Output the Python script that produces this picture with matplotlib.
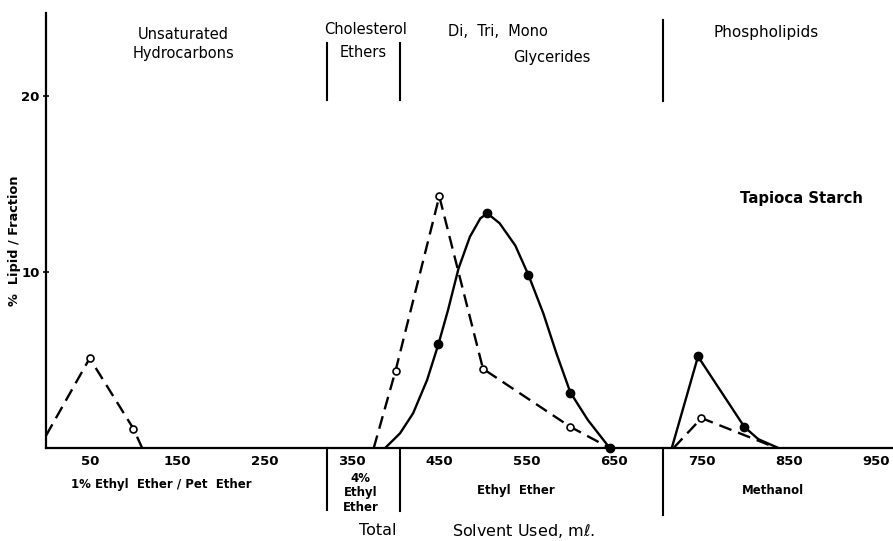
import matplotlib
matplotlib.use("Agg")
import matplotlib.pyplot as plt

# x ticks (ml of solvent)
x_ticks = [50, 150, 250, 350, 450, 550, 650, 750, 850, 950]
y_ticks = [10, 20]

# Unsaturated hydrocarbons (open circles, dashed)
hc_x = [0, 50, 100, 110]
hc_y = [0.7, 5.1, 1.1, 0.0]
hc_mx = [50, 100]
hc_my = [5.1, 1.1]

# Glycerides region - dashed (open circles)
gl_open_x = [375, 400, 450, 500, 600, 645]
gl_open_y = [0.0, 4.4, 14.3, 4.5, 1.2, 0.0]
gl_open_mx = [400, 450, 500, 600]
gl_open_my = [4.4, 14.3, 4.5, 1.2]

# Glycerides region - solid (filled circles)
gl_solid_x = [388, 405, 420, 436, 449, 460, 472, 485, 497, 505, 519, 537, 552, 569, 584, 600, 620, 645]
gl_solid_y = [0.0, 0.83, 1.97, 3.86, 5.9, 7.84, 10.2, 12.0, 13.05, 13.33, 12.77, 11.5, 9.83,
              7.65, 5.38, 3.15, 1.59, 0.0]
gl_solid_mx = [449, 505, 552, 600, 645]
gl_solid_my = [5.9, 13.33, 9.83, 3.15, 0.0]

# Phospholipids
ph_solid_x = [716, 746, 799, 815, 838]
ph_solid_y = [0.0, 5.2, 1.2, 0.5, 0.0]
ph_solid_mx = [746, 799]
ph_solid_my = [5.2, 1.2]
ph_open_x = [718, 750, 836]
ph_open_y = [0.0, 1.7, 0.0]
ph_open_mx = [750]
ph_open_my = [1.7]

dividers = [322, 405, 706]

W, H = 893, 541
fig = plt.figure(figsize=(W / 100, H / 100), dpi=100)
ax = fig.add_axes([46 / W, (H - 448) / H, (W - 46) / W, 448 / H])
ax.set_xlim(0, (W - 46) / 0.874)
ax.set_ylim(0, 448 / 17.6)

for s in ['top', 'right']:
    ax.spines[s].set_visible(False)
ax.spines['left'].set_bounds(0, 24.7)
ax.spines['left'].set_linewidth(1.6)
ax.spines['bottom'].set_linewidth(1.6)

dash = (0, (5.5, 3))
lw = 1.7
ax.plot(hc_x, hc_y, color='black', lw=lw, linestyle=dash)
ax.plot(gl_open_x, gl_open_y, color='black', lw=lw, linestyle=dash)
ax.plot(gl_solid_x, gl_solid_y, color='black', lw=lw)
ax.plot(ph_solid_x, ph_solid_y, color='black', lw=lw)
ax.plot(ph_open_x, ph_open_y, color='black', lw=lw, linestyle=dash)

for mx, my in [(hc_mx, hc_my), (gl_open_mx, gl_open_my), (ph_open_mx, ph_open_my)]:
    ax.plot(mx, my, 'o', ms=5, mfc='white', mec='black', mew=1.2, clip_on=False)
for mx, my in [(gl_solid_mx, gl_solid_my), (ph_solid_mx, ph_solid_my)]:
    ax.plot(mx, my, 'o', ms=6, color='black', clip_on=False)

ax.set_xticks(x_ticks)
ax.set_xticklabels([str(v) for v in x_ticks], fontsize=9.5, fontweight='bold')
ax.tick_params(axis='x', length=0, pad=5)
ax.set_yticks(y_ticks)
ax.set_yticklabels([str(v) for v in y_ticks], fontsize=9.5, fontweight='bold')
ax.tick_params(axis='y', direction='inout', length=5, width=1.2, pad=2)

# divider lines above and below the axis
for d, top in zip(dividers, [(19.8, 23.0), (19.8, 23.0), (19.7, 24.3)]):
    ax.plot([d, d], list(top), color='black', lw=1.5, clip_on=False)
for d, bot in zip(dividers, [-3.5, -3.6, -3.8]):
    ax.plot([d, d], [0, bot], color='black', lw=1.5, clip_on=False)

tk = dict(fontsize=10.5, color='black', ha='center', va='center')
ax.text(157, 22.95, 'Unsaturated\nHydrocarbons', linespacing=1.35, **tk)
ax.text(366, 23.8, 'Cholesterol', **tk)
ax.text(363, 22.45, 'Ethers', **tk)
ax.text(460, 23.65, 'Di,  Tri,  Mono', fontsize=10.5, ha='left', va='center')
ax.text(535, 22.2, 'Glycerides', fontsize=10.5, ha='left', va='center')
ax.text(824, 23.6, 'Phospholipids', fontsize=11, ha='center', va='center')
ax.text(864, 14.2, 'Tapioca Starch', fontsize=10.7, fontweight='bold', ha='center', va='center')

bk = dict(fontsize=8.5, fontweight='bold', ha='center', va='center')
ax.text(132, -2.05, '1% Ethyl  Ether / Pet  Ether', **bk)
ax.text(360, -2.55, '4%\nEthyl\nEther', linespacing=1.15, **bk)
ax.text(538, -2.4, 'Ethyl  Ether', **bk)
ax.text(832, -2.4, 'Methanol', **bk)

ax.text(380, -4.7, 'Total', fontsize=11.5, ha='center', va='center')
ax.text(465, -4.7, 'Solvent Used, m$\\ell$.', fontsize=11.5, ha='left', va='center')

fig.text(15 / W, 1 - 241 / H, '%  Lipid / Fraction', rotation=90, fontsize=9.3,
         fontweight='bold', ha='center', va='center')

fig.savefig('out.png', dpi=100)
